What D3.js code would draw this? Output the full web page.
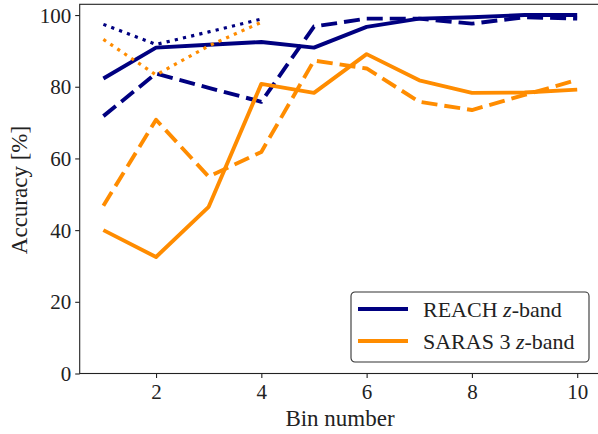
<!DOCTYPE html>
<html>
<head>
<meta charset="utf-8">
<script src="https://cdn.jsdelivr.net/npm/d3@7"></script>
<style>
  html, body { margin: 0; padding: 0; background: #fff; }
  svg { display: block; }
  text { font-family: "Liberation Serif", "DejaVu Serif", serif; fill: #222; }
</style>
</head>
<body>
<svg id="chart" width="598" height="434"></svg>
<script>
// Bin numbers along the x axis
const bins = [1, 2, 3, 4, 5, 6, 7, 8, 9, 10];

// REACH accuracy per bin (%)
const reachSolid  = [82.3, 90.9, 91.7, 92.5, 90.9, 96.7, 99.0, 99.4, 100.0, 100.0];
const reachDashed = [71.8, 83.7, 79.7, 75.8, 96.8, 99.0, 99.0, 97.6, 99.4, 99.0];
const reachDotted = [97.4, 91.8, 95.3, 98.9];

// SARAS 3 accuracy per bin (%)
const sarasSolid  = [40.0, 32.5, 46.5, 80.8, 78.3, 89.1, 81.8, 78.3, 78.4, 79.2];
const sarasDashed = [46.8, 70.8, 54.9, 61.8, 87.3, 85.1, 75.8, 73.5, 77.7, 81.9];
const sarasDotted = [93.2, 83.3, 91.4, 98.0];

// Tick values
const xTicks = [2, 4, 6, 8, 10];
const yTicks = [0, 20, 40, 60, 80, 100];

const navy = "#000080";
const orange = "#ff8c00";

const svg = d3.select("#chart");

const x = d3.scaleLinear().domain([0.55, 10.45]).range([79.7, 600.9]);
const y = d3.scaleLinear().domain([0, 103.0]).range([373.5, 4.3]);

const line = d3.line()
  .x((d, i) => x(bins[i]))
  .y(d => y(d));

const series = [
  { values: reachSolid,  color: navy,   width: 3.9, dash: null },
  { values: reachDashed, color: navy,   width: 3.9, dash: "16,7" },
  { values: reachDotted, color: navy,   width: 3.2, dash: "3.2,5.2" },
  { values: sarasSolid,  color: orange, width: 3.9, dash: null },
  { values: sarasDashed, color: orange, width: 3.9, dash: "16,7" },
  { values: sarasDotted, color: orange, width: 3.2, dash: "3.2,5.2" }
];

const plot = svg.append("g");
plot.selectAll("path.series")
  .data(series)
  .join("path")
  .attr("class", "series")
  .attr("fill", "none")
  .attr("stroke", d => d.color)
  .attr("stroke-width", d => d.width)
  .attr("stroke-dasharray", d => d.dash)
  .attr("stroke-linejoin", "round")
  .attr("d", d => line(d.values));

// Frame
svg.append("rect")
  .attr("x", x.range()[0]).attr("y", y.range()[1])
  .attr("width", x.range()[1] - x.range()[0])
  .attr("height", y.range()[0] - y.range()[1])
  .attr("fill", "none").attr("stroke", "#222").attr("stroke-width", 1.1);

// Axes
const xAxis = d3.axisBottom(x).tickValues(xTicks).tickSize(4.5).tickPadding(5).tickFormat(d3.format("d"));
const yAxis = d3.axisLeft(y).tickValues(yTicks).tickSize(4.5).tickPadding(4).tickFormat(d3.format("d"));

const gx = svg.append("g").attr("transform", `translate(0,${y.range()[0]})`).call(xAxis);
const gy = svg.append("g").attr("transform", `translate(${x.range()[0]},0)`).call(yAxis);
[gx, gy].forEach(g => {
  g.select(".domain").remove();
  g.selectAll(".tick line").attr("stroke", "#222").attr("stroke-width", 1.1);
  g.selectAll(".tick text").attr("font-size", 21).attr("fill", "#222")
    .style("font-family", "'Liberation Serif', serif");
});
gx.selectAll(".tick text").attr("dy", "0.78em");
gy.selectAll(".tick text").attr("dy", "0.34em");

// Axis titles
svg.append("text")
  .attr("x", 340).attr("y", 426)
  .attr("text-anchor", "middle").attr("font-size", 23)
  .text("Bin number");

svg.append("text")
  .attr("transform", "translate(27,190) rotate(-90)")
  .attr("text-anchor", "middle").attr("font-size", 23)
  .text("Accuracy [%]");

// Legend
const legendItems = [
  { label: "REACH", color: navy },
  { label: "SARAS 3", color: orange }
];
const lg = svg.append("g").attr("transform", "translate(351,292)");
lg.append("rect")
  .attr("width", 238).attr("height", 70).attr("rx", 4)
  .attr("fill", "#fff").attr("fill-opacity", 0.8)
  .attr("stroke", "#333").attr("stroke-width", 1.1);
legendItems.forEach((item, i) => {
  const row = lg.append("g").attr("transform", `translate(0,${17 + i * 32})`);
  row.append("line")
    .attr("x1", 7).attr("x2", 57).attr("y1", 0).attr("y2", 0)
    .attr("stroke", item.color).attr("stroke-width", 3.9);
  const t = row.append("text").attr("x", 72).attr("y", 0).attr("dy", "0.35em").attr("font-size", 22);
  t.append("tspan").text(item.label + " ");
  t.append("tspan").attr("font-style", "italic").text("z");
  t.append("tspan").text("-band");
});
</script>
</body>
</html>
